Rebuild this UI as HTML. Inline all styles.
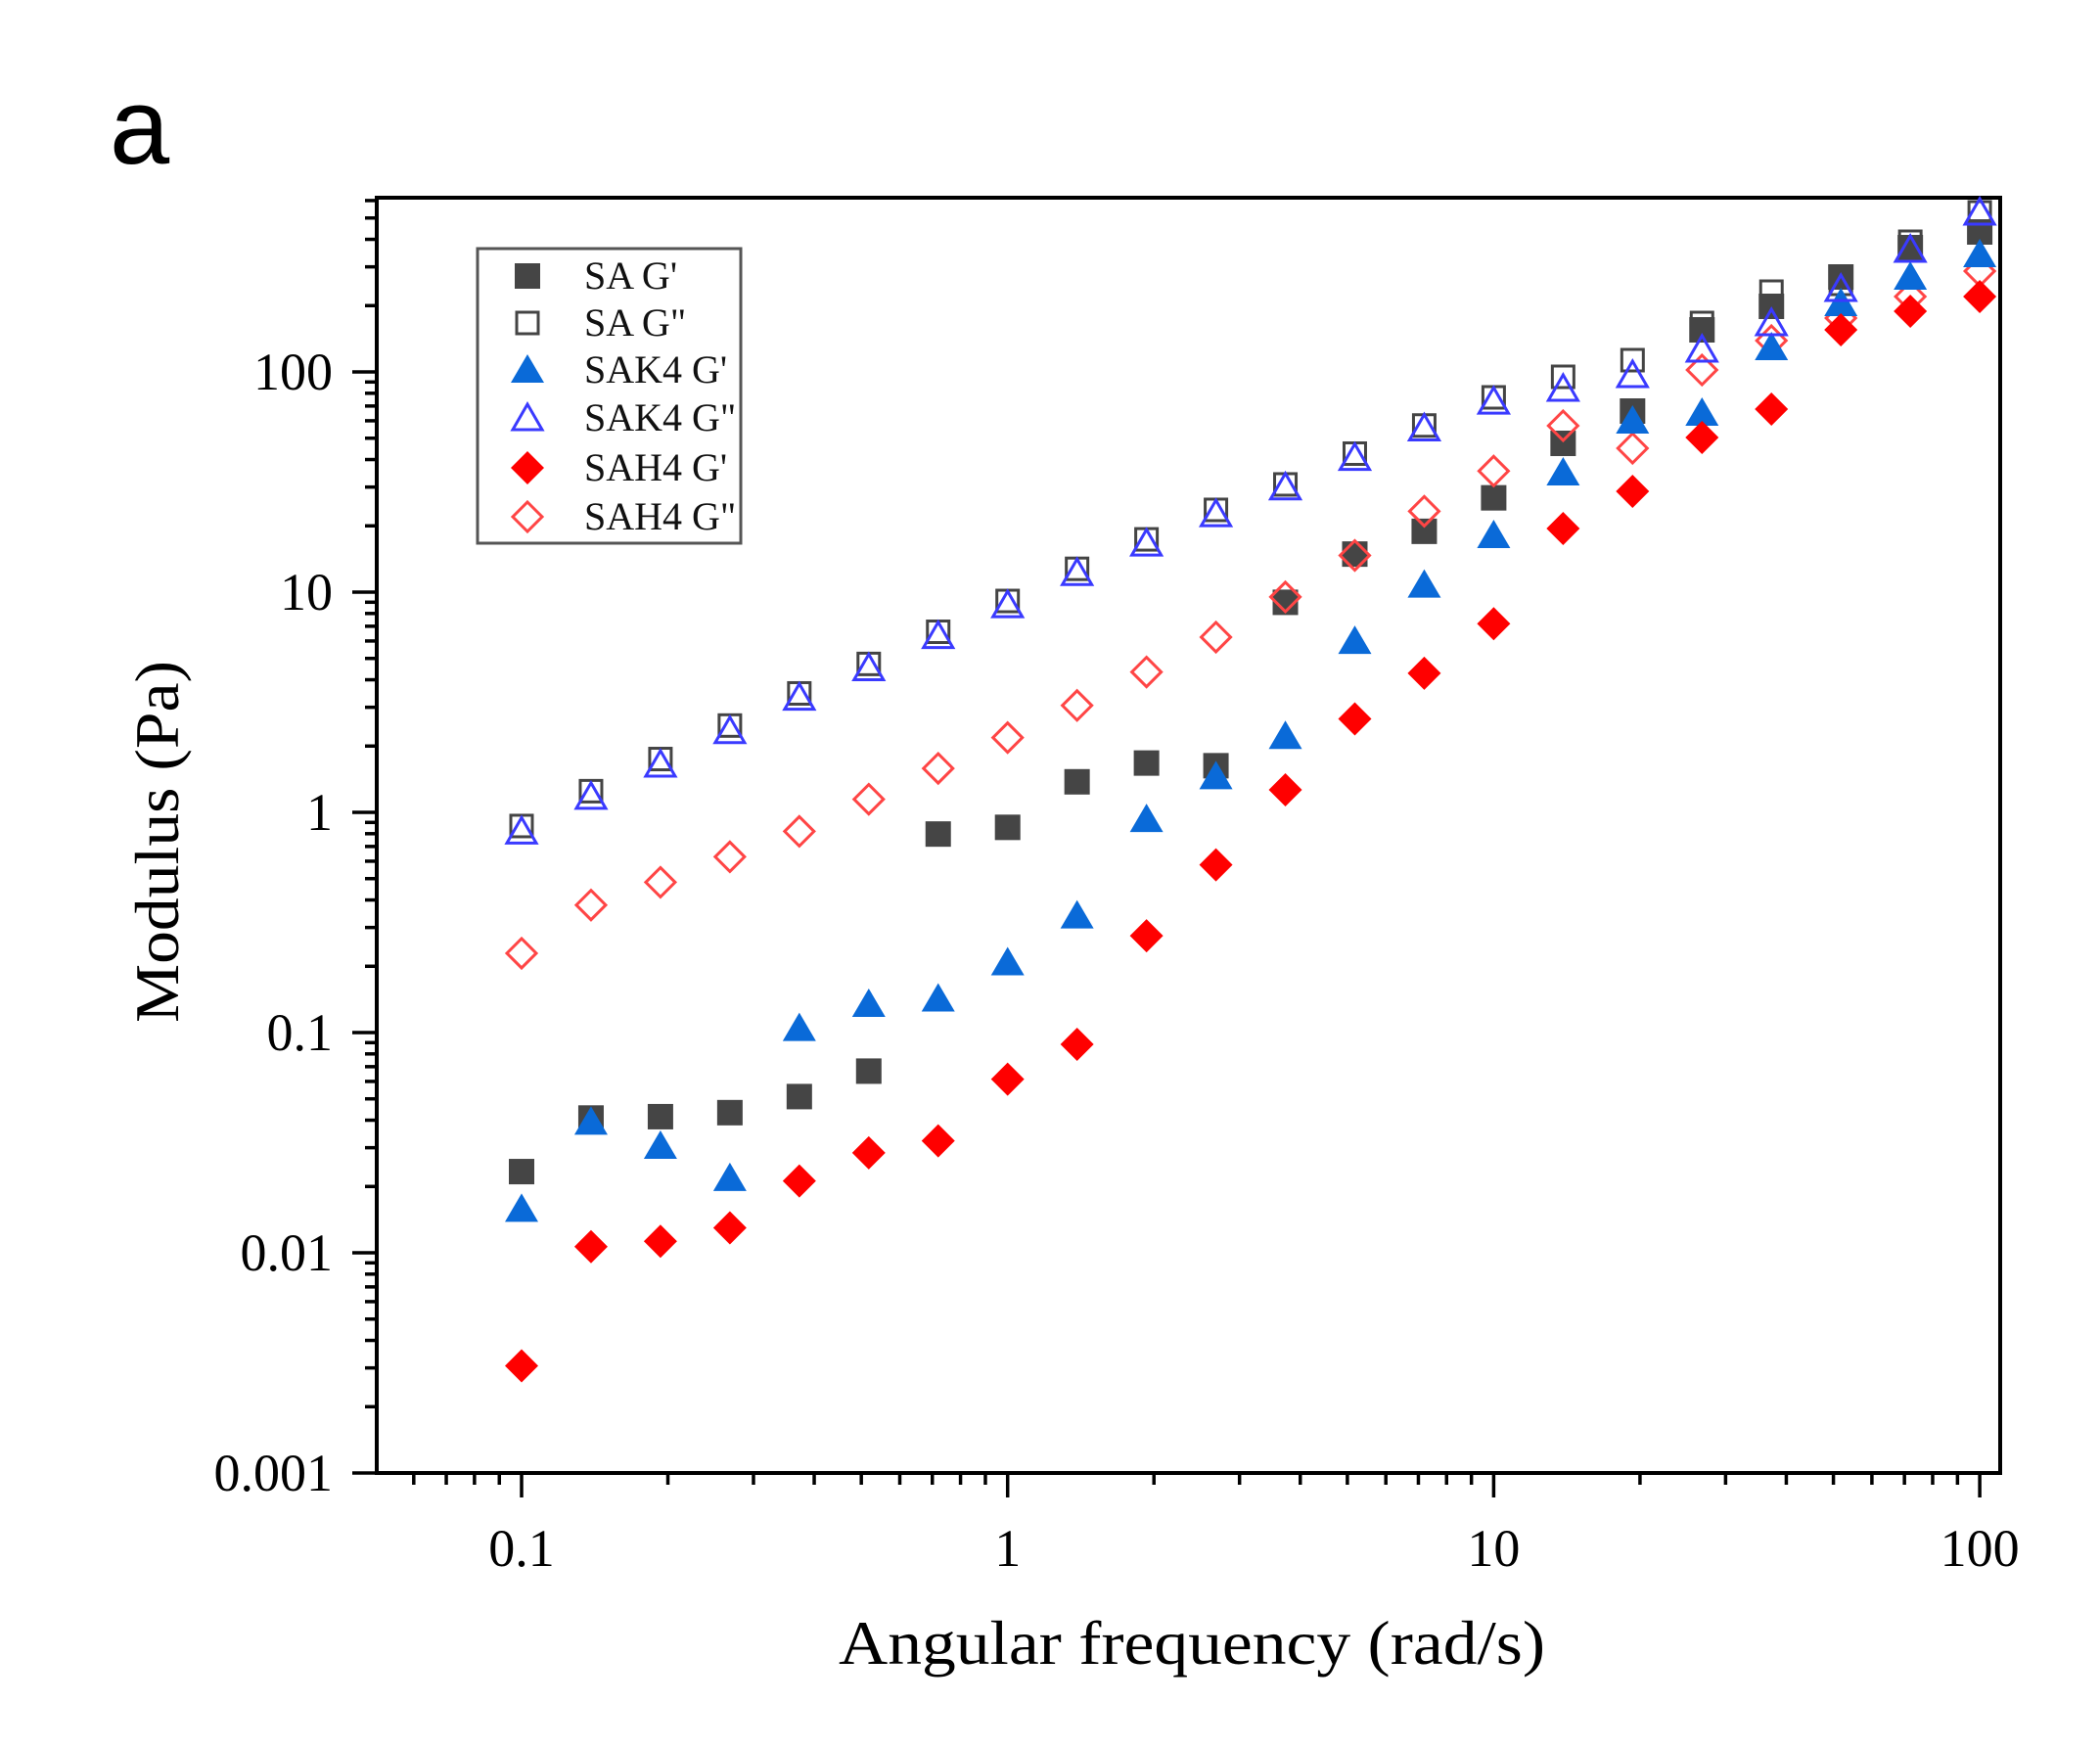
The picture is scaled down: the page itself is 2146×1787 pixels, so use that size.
<!DOCTYPE html>
<html><head><meta charset="utf-8"><style>html,body{margin:0;padding:0;background:#fff}svg{display:block}</style></head>
<body>
<svg id="s" width="2146" height="1787" xmlns="http://www.w3.org/2000/svg" font-family="Liberation Serif, serif">
<rect width="2146" height="1787" fill="#fff"/>
<text x="112" y="167" font-family="Liberation Sans, sans-serif" font-size="110" fill="#000">a</text>
<g id="ax"></g>
<g id="pts"></g>
<text x="1218" y="1700" font-size="64" text-anchor="middle" textLength="722" lengthAdjust="spacingAndGlyphs">Angular frequency (rad/s)</text>
<text transform="translate(182,860) rotate(-90)" font-size="64" text-anchor="middle" textLength="370" lengthAdjust="spacingAndGlyphs">Modulus (Pa)</text>
<rect x="488" y="254" width="269" height="301" fill="none" stroke="#555" stroke-width="3"/>
<g font-size="40" fill="#111">
<text x="597" y="295">SA G'</text>
<text x="597" y="343">SA G"</text>
<text x="597" y="391">SAK4 G'</text>
<text x="597" y="440">SAK4 G"</text>
<text x="597" y="491">SAH4 G'</text>
<text x="597" y="541">SAH4 G"</text>
</g>
<g id="leg"></g>
</svg>
<script>
const X0=533,DX=496.7,Y100=380,DY=225;
const xp=v=>X0+(Math.log10(v)+1)*DX, yp=v=>Y100-(Math.log10(v)-2)*DY;
let ax='';
const L=385,R=2044,T=202,B=1505;
ax+=`<path d="M${L} ${T}H${R}V${B}H${L}Z" fill="none" stroke="#000" stroke-width="4"/>`;
for(let e=-2;e<=2;e++)for(let m=1;m<10;m++){const v=m*Math.pow(10,e);const x=xp(v);if(x<L-1||x>R+1)continue;ax+=`<line x1="${x}" y1="${B}" x2="${x}" y2="${B+(m==1?25:12)}" stroke="#000" stroke-width="3.5"/>`;}
[[0.1,'0.1'],[1,'1'],[10,'10'],[100,'100']].forEach(([v,t])=>{ax+=`<text x="${xp(v)}" y="${1600}" font-size="54" text-anchor="middle">${t}</text>`;});
for(let e=-3;e<=2;e++)for(let m=1;m<10;m++){const v=m*Math.pow(10,e);const y=yp(v);if(y<T-1||y>B+1)continue;ax+=`<line x1="${L}" y1="${y}" x2="${L-(m==1?25:12)}" y2="${y}" stroke="#000" stroke-width="3.5"/>`;}
[[0.001,'0.001'],[0.01,'0.01'],[0.1,'0.1'],[1,'1'],[10,'10'],[100,'100']].forEach(([v,t])=>{ax+=`<text x="340" y="${yp(v)+18}" font-size="54" text-anchor="end">${t}</text>`;});
document.getElementById('ax').innerHTML=ax;
function mk(t,x,y){
 if(t==0)return `<rect x="${x-13}" y="${y-13}" width="26" height="26" fill="#454545"/>`;
 if(t==1)return `<rect x="${x-11}" y="${y-11}" width="22" height="22" fill="none" stroke="#444" stroke-width="3"/>`;
 if(t==2)return `<path d="M${x} ${y-16}L${x+17} ${y+13}H${x-17}Z" fill="#0a6ad8"/>`;
 if(t==3)return `<path d="M${x} ${y-14}L${x+15} ${y+12}H${x-15}Z" fill="none" stroke="#3a3aff" stroke-width="3"/>`;
 if(t==4)return `<path d="M${x} ${y-17}L${x+17} ${y}L${x} ${y+17}L${x-17} ${y}Z" fill="#f00"/>`;
 return `<path d="M${x} ${y-15}L${x+15} ${y}L${x} ${y+15}L${x-15} ${y}Z" fill="none" stroke="#ff4545" stroke-width="3"/>`;
}
const dc=yd=>380+(yd-278)*1.3686;
const D={
0:[875,835,834,831,819,800,623,618,584,570,572,450,414,397,372],
1:[617,591,567,542,518,496,472,449,425,403,381,362,339,318,297],
3:[621,595,571,546,521,499,475,452,428,406,384,364,342,320,300],
2:[903,838,856,880,768,750,746,719,684,612,580,550,479,437,400],
4:[1020,931,927,917,882,861,852,806,780,699,646,590,537,503,466],
5:[712,676,659,640,621,597,574,551,527,502,476,446,415,382,352]};
const A={
0:[453,420,337,313,283,253,237],
1:[385,368,330,298,290,247,217],
3:[397,383,357,330,295,255,217],
2:[483,430,422,355,310,283,260],
4:[540,502,447,418,337,318,303],
5:[435,458,378,348,325,303,277]};
let p='';
[1,0,5,2,3,4].forEach(t=>{for(let i=0;i<22;i++){const x=X0+i*DX/7;const y=i<15?dc(D[t][i]):A[t][i-15];p+=mk(t,x,y);}});
document.getElementById('pts').innerHTML=p;
let lg='';[282,330,378,427,478,528].forEach((y,t)=>lg+=mk(t,539,y));
document.getElementById('leg').innerHTML=lg;
</script>
</body></html>
